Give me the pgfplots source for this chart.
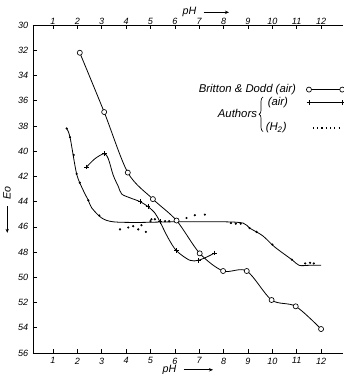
\documentclass[border=0pt]{standalone}
\usepackage{pgfplots}
\pgfplotsset{compat=1.18}
\usepackage{fontspec}
\setmainfont{Liberation Sans}
\usetikzlibrary{arrows.meta,decorations.pathreplacing}
\pgfplotsset{
  endmarks legend/.style={legend image code/.code={\draw[##1] plot coordinates {(0pt,0pt) (25pt,0pt)};}},
  dotted legend/.style={legend image code/.code={\draw[line width=0.9pt, dash pattern=on 0.9pt off 2.3pt] (3pt,0pt) -- (25pt,0pt);}},
  common/.style={
    scale only axis, width=232.5pt, height=246pt,
    xmin=0.18, xmax=12.9, ymin=30, ymax=56, y dir=reverse,
    xtick={1,...,12},
    /pgf/number format/assume math mode=true,
    ticklabel style={font=\fontsize{6.8}{7}\selectfont\itshape},
  }
}
\begin{document}
\begin{tikzpicture}
\begin{axis}[name=ax, common,
  axis x line*=box, axis y line*=left,
  every outer x axis line/.append style={-},
  every outer y axis line/.append style={-},
  every inner x axis line/.append style={-},
  axis line style={line width=0.6pt, -},
  ytick={30,32,...,56},
  tick align=inside, major tick length=3pt,
  tick style={line width=0.5pt, black},
  legend style={draw=none, fill=none, at={(axis cs:13.15,34.38)}, anchor=north east,
     font=\fontsize{8.5}{10}\selectfont\itshape,
     nodes={text height=6pt, text depth=1.8pt, inner sep=0.9pt},
     row sep=0pt, column sep=7pt},
  legend cell align=right, legend plot pos=right,
]
% Britton & Dodd (air)
\addplot[forget plot, smooth, tension=0.5, line width=0.6pt, mark=*, mark size=1.9pt,
  mark options={fill=white, draw=black, line width=0.5pt}] coordinates {
(2.1,32.2) (3.1,36.9) (4.07,41.7) (5.1,43.8) (6.07,45.5) (7.02,48.1) (7.98,49.5) (8.95,49.5) (9.97,51.8) (10.96,52.3) (12.0,54.1)};
% Authors (air), hump curve
\addplot[forget plot, smooth, tension=0.5, line width=0.6pt, mark=+, mark size=1.8pt,
  mark indices={1,3,9,10,12,14,16,18}] coordinates {
(2.38,41.25) (2.72,40.6) (3.1,40.2) (3.27,40.6) (3.47,41.9) (3.68,42.8) (3.82,43.4) (4.16,43.7) (4.57,44.0) (4.9,44.4) (5.18,44.9) (5.39,45.6) (5.73,46.9) (6.07,47.9) (6.61,48.65) (6.96,48.65) (7.3,48.4) (7.64,48.07)};
% plateau curve
\addplot[forget plot, smooth, tension=0.5, line width=0.6pt] coordinates {
(1.56,38.2) (1.7,38.9) (1.97,41.8) (2.24,43.1) (2.45,43.9) (2.59,44.5) (3.0,45.3) (3.47,45.6) (4.5,45.65) (6.0,45.6) (8.0,45.6) (8.8,45.7) (9.07,46.1) (9.6,46.7) (10.1,47.6) (10.8,48.6) (11.1,49.05) (11.5,49.05) (12.0,49.05)};
% points on the plateau curve
\addplot[forget plot, only marks, mark=*, mark size=0.6pt] coordinates {
(1.56,38.2) (1.7,38.9) (1.85,40.3) (1.97,41.8) (2.1,42.5) (2.45,43.9) (2.9,45.1) (5.0,45.55) (5.6,45.55) (5.77,45.55) (8.3,45.7) (8.5,45.75) (8.7,45.75) (9.07,46.1) (9.35,46.4) (10.0,47.4) (10.8,48.6) (11.35,48.9) (11.55,48.85) (11.7,48.9)};
% scattered (H2) points
\addplot[forget plot, only marks, mark=*, mark size=0.6pt] coordinates {
(3.75,46.2) (4.09,46.05) (4.29,45.95) (4.5,46.2) (4.63,45.87) (4.81,46.4) (5.04,45.4) (5.18,45.4) (6.48,45.3) (6.82,45.08) (7.23,45.03)};
\addlegendimage{line width=0.6pt, mark=*, mark size=1.9pt, mark options={fill=white, draw=black, line width=0.5pt}, endmarks legend}
\addlegendentry{Britton \& Dodd (air)}
\addlegendimage{line width=0.6pt, mark=+, mark size=1.8pt, endmarks legend}
\addlegendentry{(air)\rule{6pt}{0pt}}
\addlegendimage{empty legend}
\addlegendentry{\phantom{(air)}}
\addlegendimage{dotted legend}
\addlegendentry{(H\textsubscript{2})\rule{7pt}{0pt}}
\node[anchor=east, font=\fontsize{8.5}{10}\selectfont\itshape, inner sep=0pt] at (axis cs:9.38,37.0) {Authors};
\draw[line width=0.5pt, decorate, decoration={brace, amplitude=3pt}] (axis cs:9.62,38.45) -- (axis cs:9.62,35.7);
\end{axis}
\begin{axis}[common, at={(ax.south west)}, anchor=south west,
  ytick=\empty, xticklabel pos=upper, axis line style={draw=none},
  major tick length=0pt, xticklabel style={yshift=-3.5pt}]
\end{axis}
% axis labels
\node[rotate=90, font=\fontsize{8}{9}\selectfont\itshape] at ([shift={(-19.5pt,107.25pt)}]ax.south west)
  {\tikz[baseline=-0.6ex]\draw[line width=0.5pt,-{Stealth[length=3pt,width=2.5pt]}] (20pt,0)--(0,0);\ \ Eo};
\node[font=\fontsize{8}{9}\selectfont\itshape, anchor=east] at ([shift={(111pt,-12.6pt)}]ax.south west) {pH};
\draw[line width=0.5pt,-{Stealth[length=3pt,width=2.5pt]}] ([shift={(113pt,-12.6pt)}]ax.south west) -- ++(22pt,0);
\node[font=\fontsize{8}{9}\selectfont\itshape, anchor=east] at ([shift={(126pt,10pt)}]ax.north west) {pH};
\draw[line width=0.5pt,-{Stealth[length=3pt,width=2.5pt]}] ([shift={(128pt,9.5pt)}]ax.north west) -- ++(19pt,0);
\pgfresetboundingbox
\path ([shift={(-24.75pt,-15.75pt)}]ax.south west) rectangle ([shift={(0pt,18.75pt)}]ax.north east);
\end{tikzpicture}
\end{document}
